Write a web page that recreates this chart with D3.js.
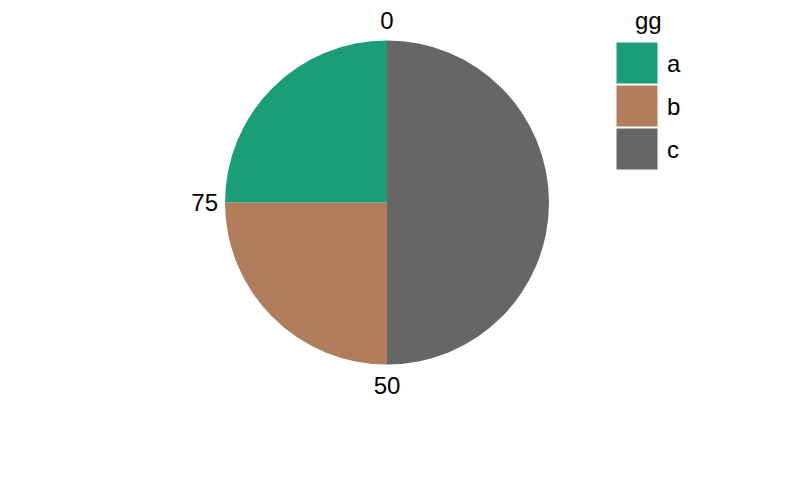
<!DOCTYPE html>
<html><head><meta charset="utf-8">
<script src="https://cdn.jsdelivr.net/npm/d3@7"></script>
<style>body{margin:0;background:#fff}svg{display:block}text{font-family:"Liberation Sans",Arial,sans-serif}</style>
</head><body>
<script>
const categories = ["a","b","c"];
const values = [25,25,50];
const colors = ["#1b9e77","#b07e5c","#666666"];
const tickValues = [0,50,75];
const legendTitle = "gg";

const W=799,H=494;
const svg=d3.select("body").append("svg").attr("width",W).attr("height",H);
const cx=387,cy=202.5,R=162;
const FS=24;
const total=d3.sum(values);
const theta=d3.scaleLinear().domain([0,total]).range([0,2*Math.PI]);
const color=d3.scaleOrdinal().domain(categories).range(colors);

// stack order: c first (clockwise from top), then b, then a
const order=["c","b","a"];
let cum=0;
const slices=order.map(k=>{const v=values[categories.indexOf(k)];const s={key:k,start:cum,end:cum+v};cum+=v;return s;});
const arc=d3.arc().innerRadius(0).outerRadius(R);
const g=svg.append("g").attr("transform",`translate(${cx},${cy})`);
g.selectAll("path").data(slices).join("path")
 .attr("d",d=>arc({startAngle:theta(d.start),endAngle:theta(d.end)}))
 .attr("fill",d=>color(d.key));

// tick labels
const gap=7;
g.selectAll("text.tick").data(tickValues).join("text").attr("class","tick")
 .attr("x",d=>Math.sin(theta(d))*(R+gap))
 .attr("y",d=>{const c=-Math.cos(theta(d));
    if(c<-0.99) return -R-11.5;
    if(c>0.99) return R+29.5;
    return c*(R+gap);})
 .attr("text-anchor",d=>{const s=Math.sin(theta(d));return Math.abs(s)<0.01?"middle":(s<0?"end":"start");})
 .attr("dy",d=>{const c=Math.cos(theta(d));return Math.abs(c)>0.99?"0":"0.36em";})
 .attr("font-size",FS).attr("fill","#000").text(d=>d);

// legend
const lg=svg.append("g");
lg.append("text").attr("x",635).attr("y",29).attr("font-size",FS).text(legendTitle);
const ky=d3.scaleBand().domain(categories).range([41,170]).padding(0);
lg.selectAll("rect").data(categories).join("rect")
 .attr("x",616).attr("y",d=>ky(d)+1).attr("width",42).attr("height",ky.bandwidth()-1)
 .attr("fill",d=>color(d)).attr("stroke","#fff").attr("stroke-width",1);
lg.selectAll("text.lab").data(categories).join("text").attr("class","lab")
 .attr("x",667).attr("y",d=>ky(d)+ky.bandwidth()/2).attr("dy","0.4em")
 .attr("font-size",FS).text(d=>d);
</script>
</body></html>
